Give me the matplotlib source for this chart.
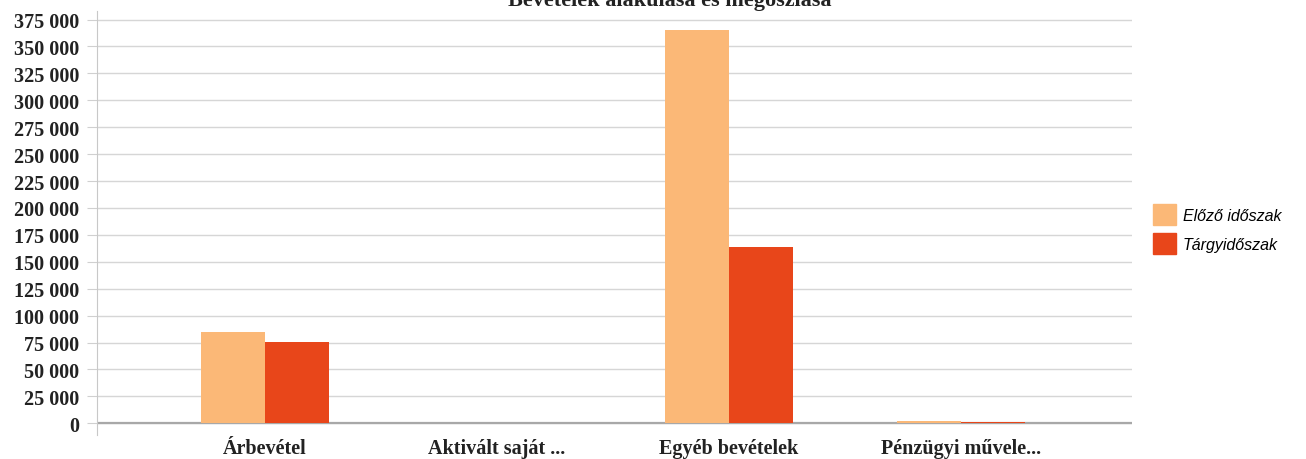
import matplotlib.pyplot as plt
from matplotlib.ticker import FuncFormatter, MultipleLocator
from matplotlib.patches import Patch

# data
categories = ["Árbevétel", "Aktivált saját ...", "Egyéb bevételek", "Pénzügyi művele..."]
elozo = [84500, 0, 365000, 2500]
targy = [75500, 0, 164000, 1500]
series_names = ["Előző időszak", "Tárgyidőszak"]

c_elozo = "#fbb877"
c_targy = "#e8461a"

fig = plt.figure(figsize=(13.06, 4.6), dpi=100)
ax = fig.add_axes([0.0743, 0.052, 0.7925, 0.922])

x = list(range(len(categories)))
w = 0.276
ax.bar([i - w / 2 for i in x], elozo, width=w, color=c_elozo, zorder=3)
ax.bar([i + w / 2 for i in x], targy, width=w, color=c_targy, zorder=3)

ax.set_xlim(-0.724, 3.737)
ax.set_ylim(-11000, 383000)
ax.yaxis.set_major_locator(MultipleLocator(25000))
ax.yaxis.set_major_formatter(FuncFormatter(lambda v, p: f"{int(v):,}".replace(",", " ")))

ax.grid(axis="y", color="#d6d6d6", linewidth=1, zorder=0)
ax.axhline(0, color="#a8a8a8", linewidth=1.6, zorder=2)

for s in ["top", "right", "bottom"]:
    ax.spines[s].set_visible(False)
ax.spines["left"].set_color("#c8c8c8")

ax.set_xticks(x)
ax.set_xticklabels(categories)
ax.tick_params(axis="x", length=0, pad=2)
ax.tick_params(axis="y", length=7, color="#d0d0d0", pad=6)
for lab in ax.get_xticklabels() + ax.get_yticklabels():
    lab.set_fontfamily("Liberation Serif")
    lab.set_fontweight("bold")
    lab.set_fontsize(14.5)
    lab.set_color("#222222")

# title, cut off by the top edge as in the scan
fig.text(0.513, 0.987, "Bevételek alakulása és megoszlása", ha="center", va="baseline",
         family="Liberation Serif", fontweight="bold", fontsize=16, color="#222222")

handles = [Patch(color=c_elozo), Patch(color=c_targy)]
fig.legend(handles, series_names, loc="center left", bbox_to_anchor=(0.872, 0.5),
           frameon=False, handlelength=1.4, handleheight=1.6, handletextpad=0.45,
           labelspacing=0.55, prop={"family": "Liberation Sans", "style": "italic", "size": 11.5})

fig.savefig("out.png", dpi=100, facecolor="white")
